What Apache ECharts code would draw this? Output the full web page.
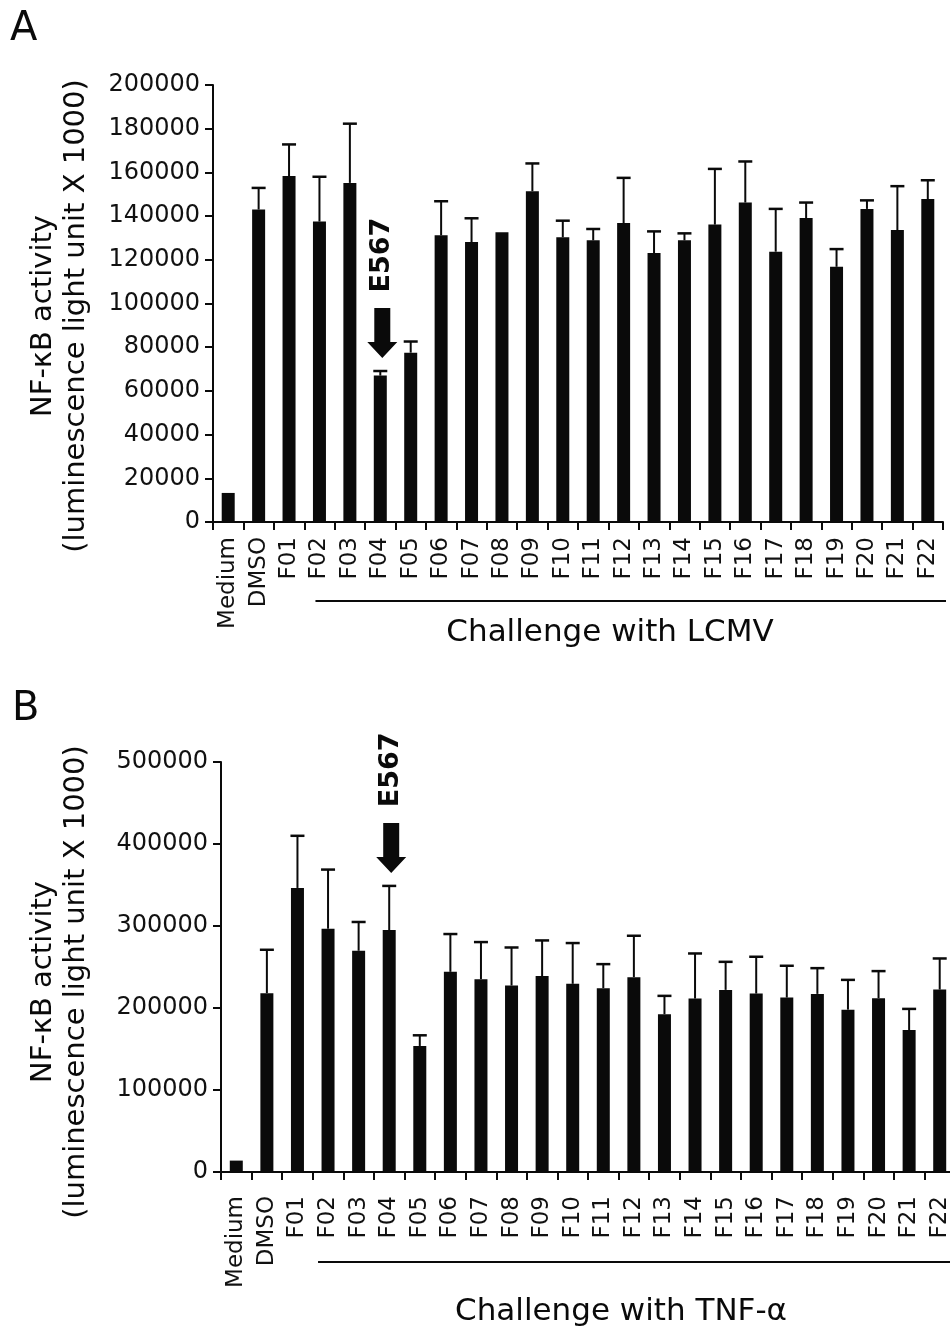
<!DOCTYPE html>
<html>
<head>
<meta charset="utf-8">
<title>NF-kB activity</title>
<script src="https://cdn.jsdelivr.net/npm/echarts@6/dist/echarts.min.js"></script>
<style>
  html, body { margin: 0; padding: 0; background: #fff; }
  #chart { width: 950px; height: 1330px; }
</style>
</head>
<body>
<div id="chart"></div>
<script>
// categories on both panels
var categories = ['Medium', 'DMSO', 'F01', 'F02', 'F03', 'F04', 'F05', 'F06', 'F07', 'F08', 'F09', 'F10',
  'F11', 'F12', 'F13', 'F14', 'F15', 'F16', 'F17', 'F18', 'F19', 'F20', 'F21', 'F22'];

// panel A - challenge with LCMV (mean, top of error bar)
var lcmvMean = [13300, 143000, 158300, 137500, 155200, 67000, 77500, 131200, 128100, 132600, 151400, 130300,
  128900, 136800, 123100, 128900, 136100, 146200, 123700, 139100, 116800, 143300, 133600, 147800];
var lcmvErrTop = [null, 152900, 172800, 158000, 182300, 69100, 82600, 146800, 139000, null, 164100, 137900,
  134100, 157500, 133000, 132100, 161600, 165000, 143300, 146200, 124900, 147200, 153700, 156400];

// panel B - challenge with TNF-alpha
var tnfMean = [13900, 218100, 346400, 296700, 269800, 295100, 153700, 244100, 235200, 227400, 238900, 229500,
  224200, 237600, 192400, 211500, 222100, 217600, 212700, 217200, 198000, 212000, 173200, 222500];
var tnfErrTop = [null, 271000, 410000, 368800, 304900, 348900, 166700, 290200, 280400, 273800, 282400, 279200,
  253500, 288100, 214800, 266500, 256300, 262500, 251500, 248600, 234300, 245000, 198900, 260400];

// y axis ticks
var lcmvTicks = { min: 0, max: 200000, step: 20000 };
var tnfTicks = { min: 0, max: 500000, step: 100000 };

var highlighted = 'F04';
var highlightName = 'E567';

var FONT = 'DejaVu Sans, Verdana, sans-serif';
var INK = '#0a0a0a';

function errData(mean, errTop) {
  var out = [];
  for (var i = 0; i < categories.length; i++) {
    if (errTop[i] != null) out.push([i, mean[i], errTop[i]]);
  }
  return out;
}

function renderError(params, api) {
  var base = api.coord([api.value(0), api.value(1)]);
  var tip = api.coord([api.value(0), api.value(2)]);
  return {
    type: 'group',
    children: [
      { type: 'line', shape: { x1: base[0], y1: base[1], x2: tip[0], y2: tip[1] },
        style: { stroke: INK, lineWidth: 2 } },
      { type: 'line', shape: { x1: tip[0] - 7, y1: tip[1], x2: tip[0] + 7, y2: tip[1] },
        style: { stroke: INK, lineWidth: 2.5 } }
    ]
  };
}

function renderArrow(params, api) {
  var p = api.coord([api.value(0), api.value(1)]);
  var tx = p[0] + 2, ty = p[1] - 13;
  return {
    type: 'group',
    children: [
      { type: 'polygon', shape: { points: [
          [tx - 8, ty - 50], [tx + 8, ty - 50], [tx + 8, ty - 16], [tx + 15, ty - 16],
          [tx, ty], [tx - 15, ty - 16], [tx - 8, ty - 16]] },
        style: { fill: INK } },
      { type: 'text', x: tx, y: ty - 50 - 14 - 39, rotation: Math.PI / 2,
        style: { text: highlightName, font: 'bold 27px ' + FONT, fill: INK,
          align: 'center', verticalAlign: 'middle' } }
    ]
  };
}

function xAxisFor(gridIndex, margin) {
  return {
    type: 'category', gridIndex: gridIndex, data: categories,
    axisLine: { show: true, lineStyle: { color: INK, width: 2 } },
    axisTick: { show: true, length: 8, inside: false, lineStyle: { color: INK, width: 2 } },
    axisLabel: { interval: 0, rotate: 90, margin: margin, color: '#111', fontSize: 23, fontFamily: FONT },
    splitLine: { show: false }
  };
}

function yAxisFor(gridIndex, t) {
  return {
    type: 'value', gridIndex: gridIndex, min: t.min, max: t.max, interval: t.step,
    axisLine: { show: true, lineStyle: { color: INK, width: 2 } },
    axisTick: { show: true, length: 8, lineStyle: { color: INK, width: 2 } },
    axisLabel: { margin: 13, color: '#111', fontSize: 24, fontFamily: FONT,
      formatter: function (v) { return String(v); } },
    splitLine: { show: false }
  };
}

var chart = echarts.init(document.getElementById('chart'), null, { renderer: 'canvas' });

var option = {
  backgroundColor: '#fff',
  animation: false,
  grid: [
    { left: 213, top: 85, width: 730, height: 437, outerBoundsMode: 'none', containLabel: false },
    { left: 221, top: 762, width: 734, height: 410, outerBoundsMode: 'none', containLabel: false }
  ],
  xAxis: [xAxisFor(0, 15), xAxisFor(1, 24)],
  yAxis: [yAxisFor(0, lcmvTicks), yAxisFor(1, tnfTicks)],
  series: [
    { type: 'bar', xAxisIndex: 0, yAxisIndex: 0, data: lcmvMean, barWidth: 13,
      itemStyle: { color: INK } },
    { type: 'custom', xAxisIndex: 0, yAxisIndex: 0, renderItem: renderError,
      data: errData(lcmvMean, lcmvErrTop), z: 3 },
    { type: 'custom', xAxisIndex: 0, yAxisIndex: 0, renderItem: renderArrow,
      data: [[categories.indexOf(highlighted), lcmvErrTop[categories.indexOf(highlighted)]]], z: 4 },
    { type: 'bar', xAxisIndex: 1, yAxisIndex: 1, data: tnfMean, barWidth: 13,
      itemStyle: { color: INK } },
    { type: 'custom', xAxisIndex: 1, yAxisIndex: 1, renderItem: renderError,
      data: errData(tnfMean, tnfErrTop), z: 3 },
    { type: 'custom', xAxisIndex: 1, yAxisIndex: 1, renderItem: renderArrow,
      data: [[categories.indexOf(highlighted), tnfErrTop[categories.indexOf(highlighted)]]], z: 4 }
  ]
};
chart.setOption(option);

// brackets under F02..F22 and text labels
var a0 = chart.convertToPixel({ gridIndex: 0 }, ['F02', 0]);
var b0 = chart.convertToPixel({ gridIndex: 1 }, ['F02', 0]);
var yTitle = 'NF-\u03baB activity\n(luminescence light unit X 1000)';

chart.setOption({
  graphic: [
    { type: 'text', left: 10, top: 10, style: { text: 'A', font: '40px ' + FONT, fill: INK } },
    { type: 'text', left: 12, top: 690, style: { text: 'B', font: '40px ' + FONT, fill: INK } },
    { type: 'text', x: 60, y: 316, rotation: Math.PI / 2,
      style: { text: yTitle, font: '29px ' + FONT, lineHeight: 33, fill: INK, align: 'center', verticalAlign: 'middle' } },
    { type: 'text', x: 60, y: 982, rotation: Math.PI / 2,
      style: { text: yTitle, font: '29px ' + FONT, lineHeight: 33, fill: INK, align: 'center', verticalAlign: 'middle' } },
    { type: 'line', shape: { x1: a0[0] - 4, y1: a0[1] + 79, x2: 946, y2: a0[1] + 79 },
      style: { stroke: INK, lineWidth: 2 } },
    { type: 'line', shape: { x1: b0[0] - 10, y1: b0[1] + 90, x2: 950, y2: b0[1] + 90 },
      style: { stroke: INK, lineWidth: 2 } },
    { type: 'text', x: 610, y: 633,
      style: { text: 'Challenge with LCMV', font: '31px ' + FONT, fill: INK, align: 'center', verticalAlign: 'middle' } },
    { type: 'text', x: 621, y: 1312,
      style: { text: 'Challenge with TNF-\u03b1', font: '31px ' + FONT, fill: INK, align: 'center', verticalAlign: 'middle' } }
  ]
});
</script>
</body>
</html>
